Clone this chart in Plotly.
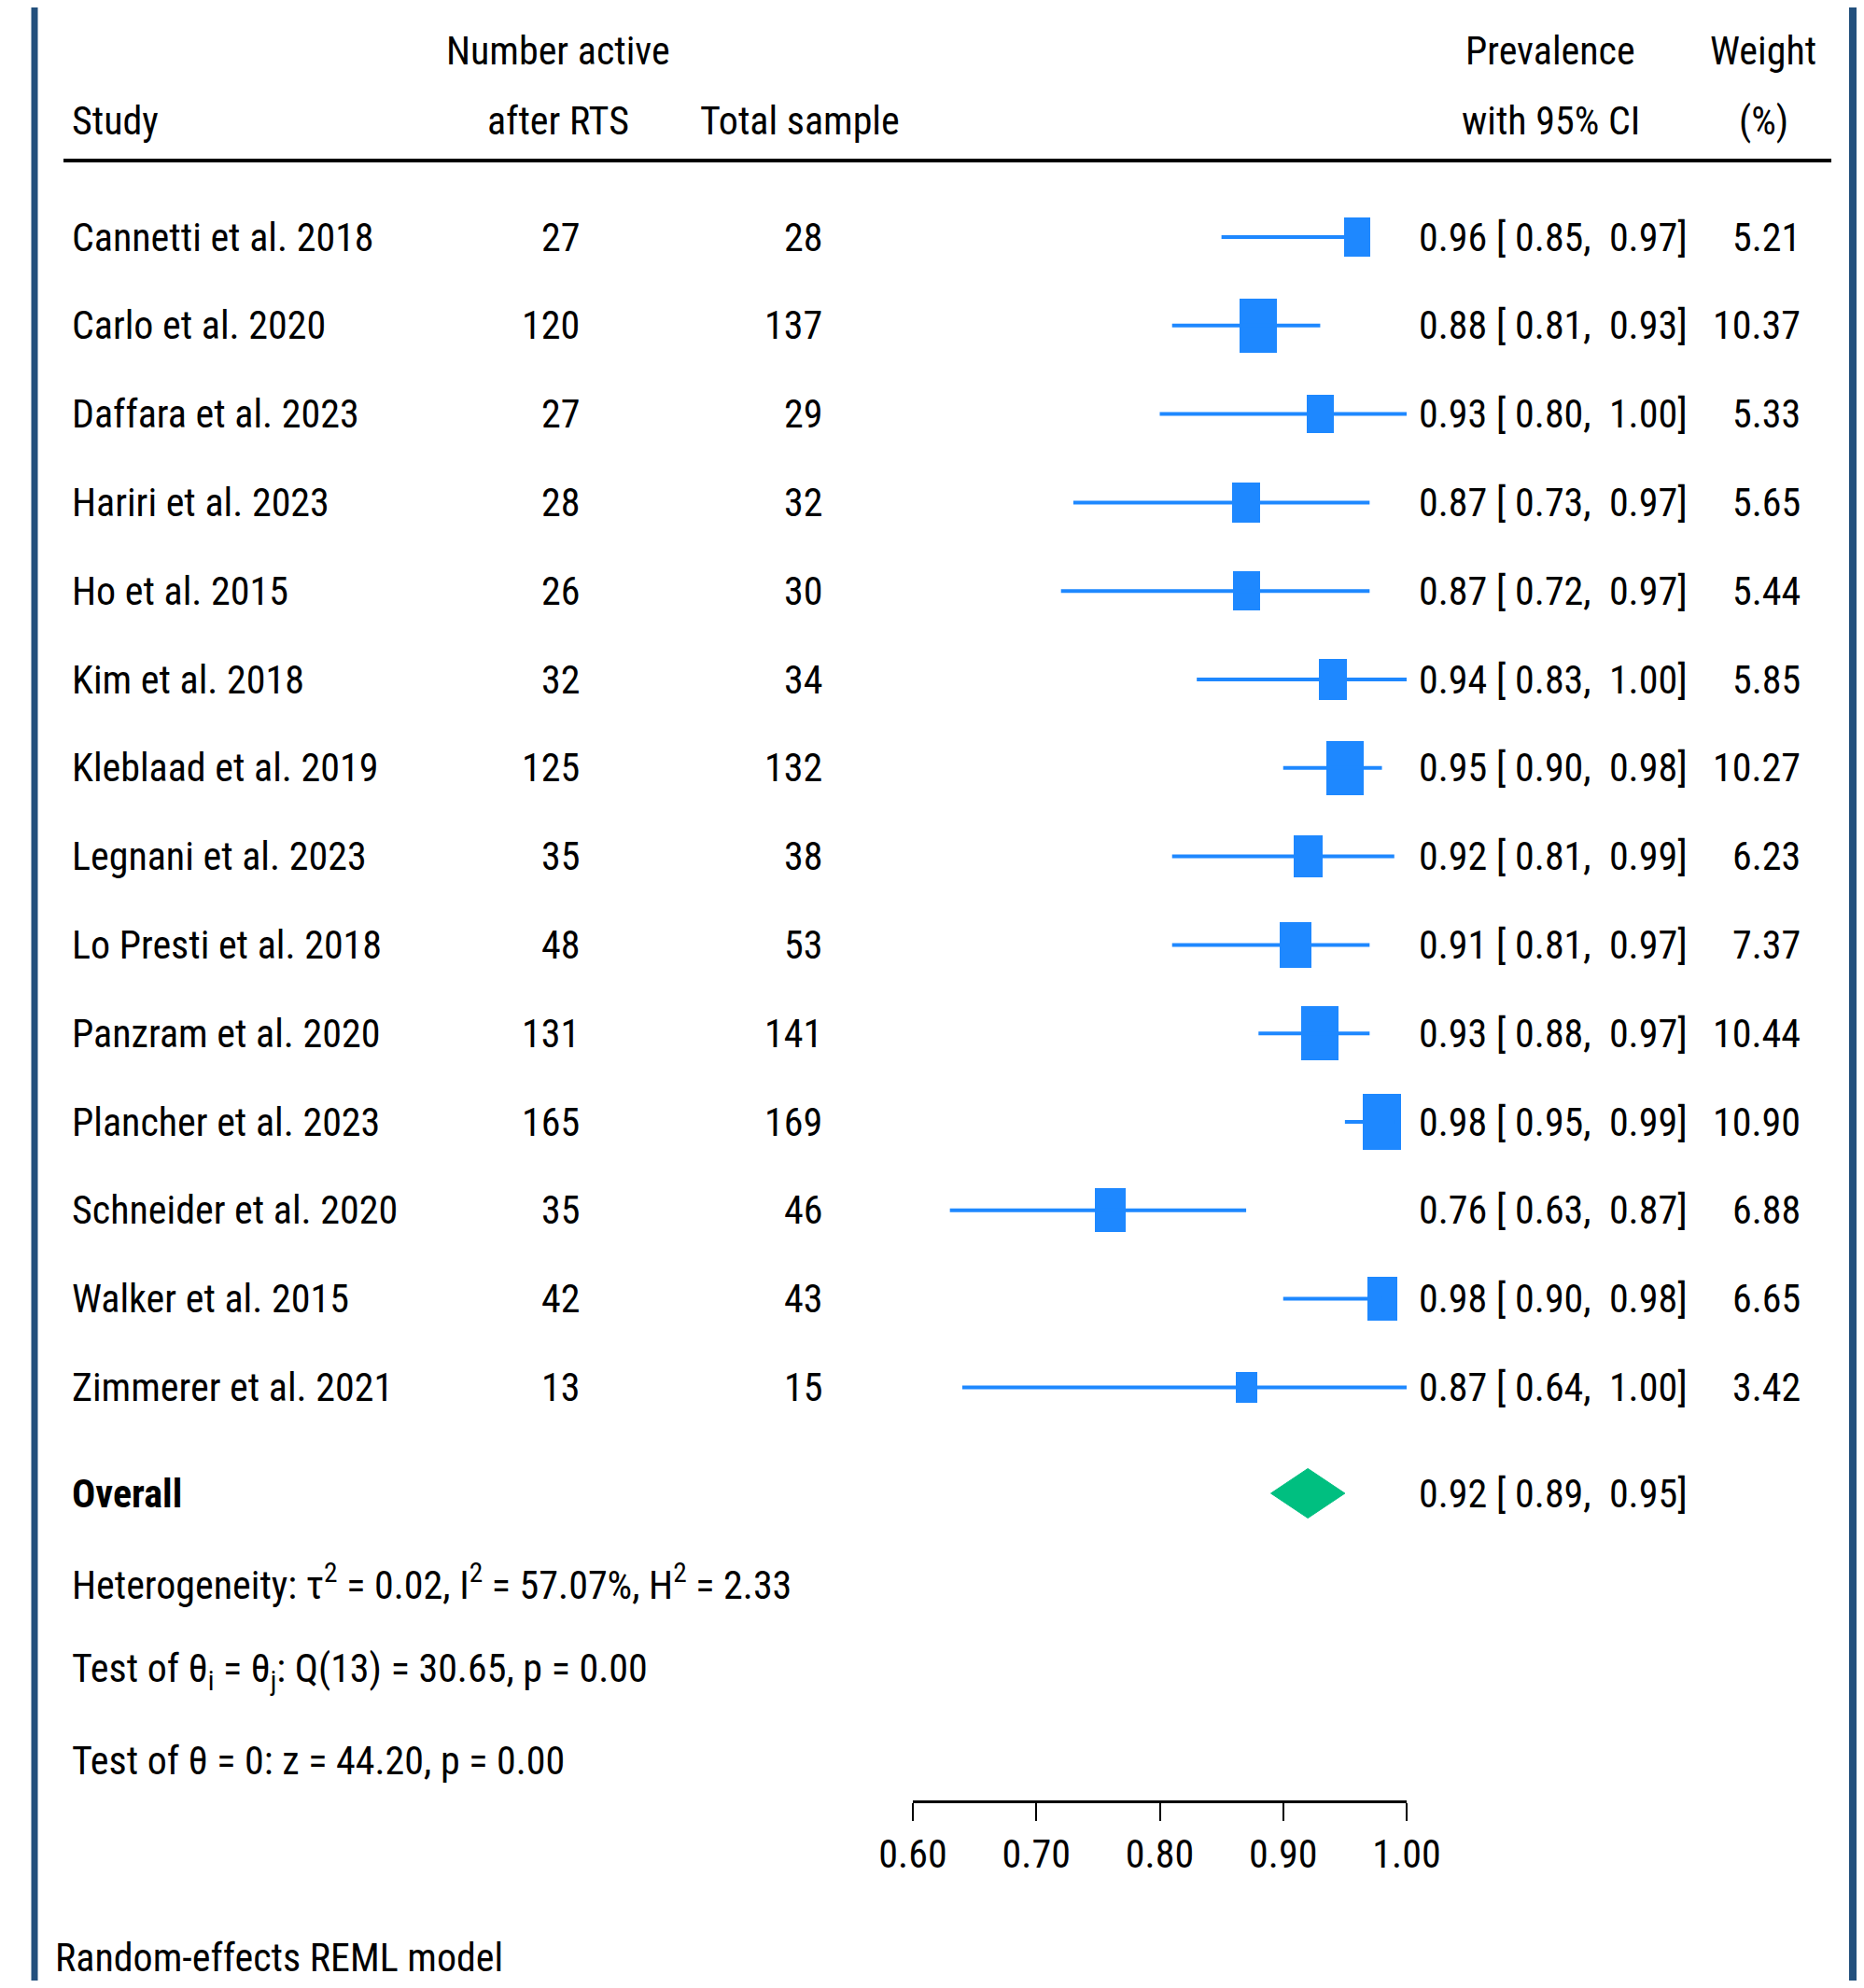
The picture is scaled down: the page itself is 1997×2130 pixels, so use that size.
import subprocess
import plotly.graph_objects as go

# ---------------- data ----------------
studies = ["Cannetti et al. 2018", "Carlo et al. 2020", "Daffara et al. 2023",
           "Hariri et al. 2023", "Ho et al. 2015", "Kim et al. 2018",
           "Kleblaad et al. 2019", "Legnani et al. 2023", "Lo Presti et al. 2018",
           "Panzram et al. 2020", "Plancher et al. 2023", "Schneider et al. 2020",
           "Walker et al. 2015", "Zimmerer et al. 2021"]
active = [27, 120, 27, 28, 26, 32, 125, 35, 48, 131, 165, 35, 42, 13]
total = [28, 137, 29, 32, 30, 34, 132, 38, 53, 141, 169, 46, 43, 15]
prev = [0.96, 0.88, 0.93, 0.87, 0.87, 0.94, 0.95, 0.92, 0.91, 0.93, 0.98, 0.76, 0.98, 0.87]
ci_lo = [0.85, 0.81, 0.80, 0.73, 0.72, 0.83, 0.90, 0.81, 0.81, 0.88, 0.95, 0.63, 0.90, 0.64]
ci_hi = [0.97, 0.93, 1.00, 0.97, 0.97, 1.00, 0.98, 0.99, 0.97, 0.97, 0.99, 0.87, 0.98, 1.00]
weight = [5.21, 10.37, 5.33, 5.65, 5.44, 5.85, 10.27, 6.23, 7.37, 10.44, 10.90, 6.88, 6.65, 3.42]

overall_est = 0.92
overall_lo = 0.89
overall_hi = 0.95

tick_vals = [0.60, 0.70, 0.80, 0.90, 1.00]
tick_text = ["0.60", "0.70", "0.80", "0.90", "1.00"]

het_text = "Heterogeneity: τ<sup>2</sup> = 0.02, I<sup>2</sup> = 57.07%, H<sup>2</sup> = 2.33"
test1_text = "Test of θ<sub>i</sub> = θ<sub>j</sub>: Q(13) = 30.65, p = 0.00"
test2_text = "Test of θ = 0: z = 44.20, p = 0.00"
model_text = "Random-effects REML model"

# ---------------- font choice (narrowest installed sans) ----------------
try:
    fams = subprocess.run(["fc-list", ":", "family"], capture_output=True,
                          text=True, timeout=10).stdout.lower()
except Exception:
    fams = ""
if "liberation sans narrow" in fams:
    FONT, FS = "Liberation Sans Narrow", 43
elif "roboto condensed" in fams:
    FONT, FS = "Roboto Condensed", 42
elif "dejavu sans condensed" in fams:
    FONT, FS = "DejaVu Sans Condensed", 37
else:
    FONT, FS = "Liberation Sans", 35

# ---------------- layout constants (reference pixel coords) ----------------
PAGE = 8                 # page body offset of the figure div
W, H = 1997 - PAGE, 2130 - 2 * PAGE
ROW0_PX = 254.0
ROW_PX = 94.8
def row_of(py):
    return (py - ROW0_PX) / ROW_PX
def px(x):
    return (x - PAGE) / W

BLUE = "#1E88FF"
GREEN = "#00BF80"
FRAME = "#23507D"
X_AX_L, X_AX_R = 978, 1507
AXIS_Y = 1930

n = len(studies)
rows = list(range(n))

fig = go.Figure()

# CI lines
for i in rows:
    fig.add_trace(go.Scatter(
        x=[ci_lo[i], ci_hi[i]], y=[i, i], mode="lines",
        line=dict(color=BLUE, width=4), cliponaxis=False,
        showlegend=False, hoverinfo="skip"))

# weight boxes (area proportional to weight)
XW = 0.00937   # width per sqrt(weight) in x units
YH = 0.19      # height per sqrt(weight) in row units
half_w = [XW * (w ** 0.5) / 2 for w in weight]
box_h = [YH * (w ** 0.5) for w in weight]
fig.add_trace(go.Bar(
    orientation="h",
    y=rows,
    x=[2 * hw for hw in half_w],
    base=[p - hw for p, hw in zip(prev, half_w)],
    width=box_h,
    marker=dict(color=BLUE, line=dict(width=0)),
    showlegend=False, hoverinfo="skip"))

# overall diamond
r_ov = row_of(1600)
dh = 0.28
fig.add_trace(go.Scatter(
    x=[overall_lo, overall_est, overall_hi, overall_est, overall_lo],
    y=[r_ov, r_ov - dh, r_ov, r_ov + dh, r_ov],
    mode="lines", fill="toself", fillcolor=GREEN,
    line=dict(color=GREEN, width=1), cliponaxis=False,
    showlegend=False, hoverinfo="skip"))

ann = []
def add_text(text, xp, y, anchor="left", bold=False):
    ann.append(dict(text=("<b>%s</b>" % text) if bold else text,
                    x=px(xp), xref="paper", y=y, yref="y",
                    xanchor=anchor, yanchor="middle", showarrow=False,
                    font=dict(family=FONT, size=FS, color="black")))

# headers
add_text("Study", 75, row_of(129))
add_text("Number active", 598, row_of(54), "center")
add_text("after RTS", 598, row_of(129), "center")
add_text("Total sample", 857, row_of(129), "center")
add_text("Prevalence", 1661, row_of(54), "center")
add_text("with 95% CI", 1661, row_of(129), "center")
add_text("Weight", 1889, row_of(54), "center")
add_text("(%)", 1889, row_of(129), "center")

for i in rows:
    add_text(studies[i], 75, i)
    add_text(str(active[i]), 623, i, "right")
    add_text(str(total[i]), 883, i, "right")
    add_text("%.2f [ %.2f,\u00a0 %.2f]" % (prev[i], ci_lo[i], ci_hi[i]), 1518, i)
    add_text("%.2f" % weight[i], 1931, i, "right")

add_text("Overall", 75, r_ov, bold=True)
add_text("%.2f [ %.2f,\u00a0 %.2f]" % (overall_est, overall_lo, overall_hi), 1518, r_ov)
add_text(het_text, 75, row_of(1695))
add_text(test1_text, 75, row_of(1790))
add_text(test2_text, 75, row_of(1886))
add_text(model_text, 57, row_of(2097))

shapes = [
    dict(type="line", xref="paper", yref="y", x0=px(68), x1=px(1962),
         y0=row_of(172), y1=row_of(172), line=dict(color="black", width=4)),
    dict(type="line", xref="paper", yref="paper", x0=px(37), x1=px(37), y0=0, y1=1,
         line=dict(color=FRAME, width=7)),
    dict(type="line", xref="paper", yref="paper", x0=px(1985), x1=px(1985), y0=0, y1=1,
         line=dict(color=FRAME, width=8)),
]

fig.update_layout(
    width=W, height=H,
    autosize=False,
    margin=dict(l=0, r=0, t=0, b=0, pad=0, autoexpand=False),
    paper_bgcolor="white", plot_bgcolor="white",
    font=dict(family=FONT, size=FS, color="black"),
    xaxis=dict(domain=[px(X_AX_L), px(X_AX_R)], range=[0.60, 1.00],
               anchor="free", position=(PAGE + H - AXIS_Y) / H, automargin=False,
               showline=True, linecolor="black", linewidth=3,
               ticks="outside", ticklen=19, tickwidth=2, tickcolor="black",
               tickvals=tick_vals, ticktext=tick_text,
               tickfont=dict(family=FONT, size=FS, color="black"),
               showgrid=False, zeroline=False, fixedrange=True),
    yaxis=dict(domain=[0, 1], range=[row_of(PAGE + H), row_of(PAGE)], automargin=False,
               visible=False, showgrid=False, zeroline=False, fixedrange=True),
    annotations=ann, shapes=shapes, bargap=0,
)

fig.write_html("out.html")
